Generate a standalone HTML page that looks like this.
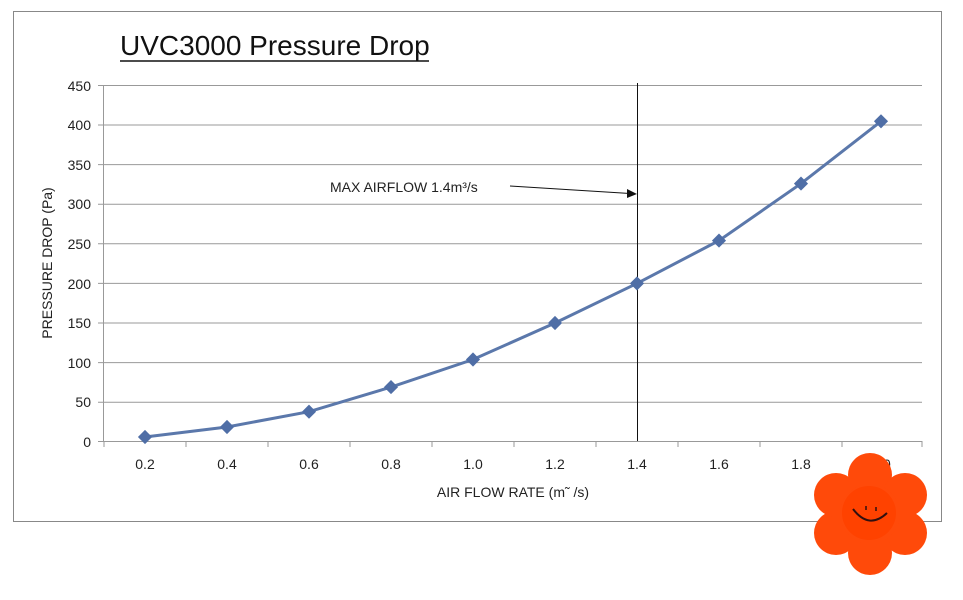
<!DOCTYPE html>
<html><head><meta charset="utf-8"><style>
body{margin:0;background:#fff;}
svg{display:block;font-family:"Liberation Sans",Arial,sans-serif;}
</style></head><body>
<svg width="963" height="600" viewBox="0 0 963 600" xmlns="http://www.w3.org/2000/svg">
<rect x="13.5" y="11.5" width="928" height="510" fill="#fff" stroke="#888" stroke-width="1"/>
<text x="120" y="55" font-size="28" fill="#111">UVC3000 Pressure Drop</text>
<line x1="120" y1="61" x2="429" y2="61" stroke="#111" stroke-width="1.5"/>
<g stroke="#999" stroke-width="1">
<line x1="98" y1="85.5" x2="922" y2="85.5"/>
<line x1="98" y1="125" x2="922" y2="125"/>
<line x1="98" y1="164.6" x2="922" y2="164.6"/>
<line x1="98" y1="204.2" x2="922" y2="204.2"/>
<line x1="98" y1="243.8" x2="922" y2="243.8"/>
<line x1="98" y1="283.4" x2="922" y2="283.4"/>
<line x1="98" y1="323" x2="922" y2="323"/>
<line x1="98" y1="362.6" x2="922" y2="362.6"/>
<line x1="98" y1="402.2" x2="922" y2="402.2"/>
<line x1="98" y1="441.5" x2="922" y2="441.5"/>
<line x1="103.5" y1="85" x2="103.5" y2="441"/>
<line x1="104" y1="441" x2="104" y2="447"/><line x1="186" y1="441" x2="186" y2="447"/><line x1="268" y1="441" x2="268" y2="447"/><line x1="350" y1="441" x2="350" y2="447"/><line x1="432" y1="441" x2="432" y2="447"/><line x1="514" y1="441" x2="514" y2="447"/><line x1="596" y1="441" x2="596" y2="447"/><line x1="678" y1="441" x2="678" y2="447"/><line x1="760" y1="441" x2="760" y2="447"/><line x1="842" y1="441" x2="842" y2="447"/><line x1="922" y1="441" x2="922" y2="447"/>
</g>
<g font-size="14" fill="#222" text-anchor="end">
<text x="91" y="91">450</text><text x="91" y="130">400</text><text x="91" y="170">350</text><text x="91" y="209">300</text><text x="91" y="249">250</text><text x="91" y="289">200</text><text x="91" y="328">150</text><text x="91" y="368">100</text><text x="91" y="407">50</text><text x="91" y="447">0</text>
</g>
<g font-size="14" fill="#222" text-anchor="middle">
<text x="145" y="469">0.2</text><text x="227" y="469">0.4</text><text x="309" y="469">0.6</text><text x="391" y="469">0.8</text><text x="473" y="469">1.0</text><text x="555" y="469">1.2</text><text x="637" y="469">1.4</text><text x="719" y="469">1.6</text><text x="801" y="469">1.8</text><text x="881" y="469">2.0</text>
<text x="513" y="497">AIR FLOW RATE (m˜ /s)</text>
<text transform="translate(52,263) rotate(-90)">PRESSURE DROP (Pa)</text>
</g>
<line x1="637.5" y1="83" x2="637.5" y2="441" stroke="#111" stroke-width="1"/>
<text x="330" y="192" font-size="14" fill="#222">MAX AIRFLOW 1.4m³/s</text>
<line x1="510" y1="186" x2="630" y2="193.5" stroke="#111" stroke-width="1"/>
<polygon points="637,194 627,189 627,198" fill="#111"/>
<polyline fill="none" stroke="#5b78ab" stroke-width="3" points="145,437 227,427 309,411.7 391,387.1 473,359.5 555,323 637,283.4 719,240.6 801,183.6 881,121.3"/>
<g fill="#4f6ea6">
<rect x="140" y="432" width="10" height="10" transform="rotate(45 145 437)"/>
<rect x="222" y="422" width="10" height="10" transform="rotate(45 227 427)"/>
<rect x="304" y="406.7" width="10" height="10" transform="rotate(45 309 411.7)"/>
<rect x="386" y="382.1" width="10" height="10" transform="rotate(45 391 387.1)"/>
<rect x="468" y="354.5" width="10" height="10" transform="rotate(45 473 359.5)"/>
<rect x="550" y="318" width="10" height="10" transform="rotate(45 555 323)"/>
<rect x="632" y="278.4" width="10" height="10" transform="rotate(45 637 283.4)"/>
<rect x="714" y="235.6" width="10" height="10" transform="rotate(45 719 240.6)"/>
<rect x="796" y="178.6" width="10" height="10" transform="rotate(45 801 183.6)"/>
<rect x="876" y="116.3" width="10" height="10" transform="rotate(45 881 121.3)"/>
</g>
<g fill="#ff4a0a">
<circle cx="870" cy="475" r="22"/><circle cx="905" cy="495" r="22"/><circle cx="905" cy="533" r="22"/>
<circle cx="870" cy="553" r="22"/><circle cx="836" cy="533" r="22"/><circle cx="836" cy="495" r="22"/>
<circle cx="870" cy="514" r="30"/>
</g>
<circle cx="869" cy="513" r="27" fill="#ff4200"/>
<path d="M853 509 Q869 530 887 513" fill="none" stroke="#301010" stroke-width="2"/>
<line x1="866" y1="506" x2="866" y2="510" stroke="#301010" stroke-width="1.5"/>
<line x1="876" y1="507" x2="876" y2="511" stroke="#301010" stroke-width="1.5"/>
</svg>
</body></html>
